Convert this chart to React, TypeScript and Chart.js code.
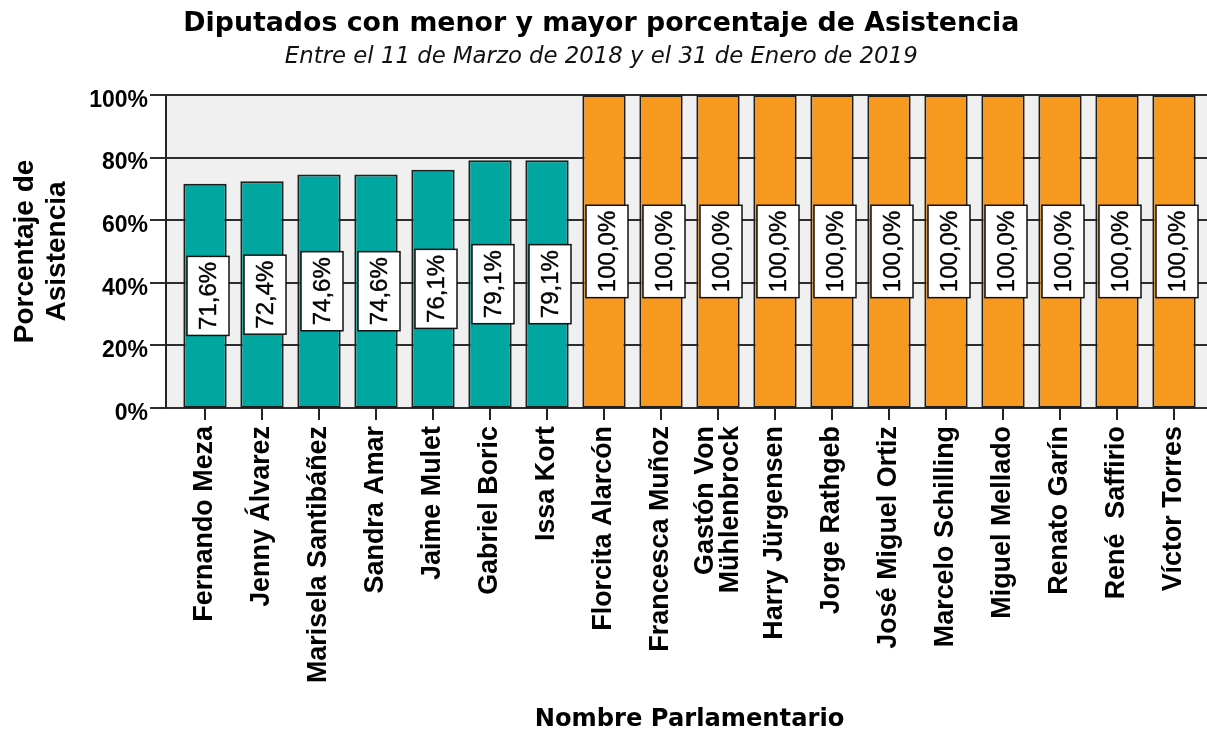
import React, { useEffect, useRef } from "react";
import { Chart, registerables } from "chart.js";

Chart.register(...registerables);

// ---- data ----
const parlamentarios: (string | string[])[] = [
  "Fernando Meza",
  "Jenny Álvarez",
  "Marisela Santibáñez",
  "Sandra Amar",
  "Jaime Mulet",
  "Gabriel Boric",
  "Issa Kort",
  "Florcita Alarcón",
  "Francesca Muñoz",
  ["Gastón Von", "Mühlenbrock"],
  "Harry Jürgensen",
  "Jorge Rathgeb",
  "José Miguel Ortiz",
  "Marcelo Schilling",
  "Miguel Mellado",
  "Renato Garín",
  "René  Saffirio",
  "Víctor Torres",
];
const asistencia: number[] = [
  71.6, 72.4, 74.6, 74.6, 76.1, 79.1, 79.1,
  100, 100, 100, 100, 100, 100, 100, 100, 100, 100, 100,
];
const grupo: string[] = [
  "menor", "menor", "menor", "menor", "menor", "menor", "menor",
  "mayor", "mayor", "mayor", "mayor", "mayor", "mayor", "mayor", "mayor", "mayor", "mayor", "mayor",
];
const yTicks: number[] = [0, 20, 40, 60, 80, 100];

const TITLE = "Diputados con menor y mayor porcentaje de Asistencia";
const SUBTITLE = "Entre el 11 de Marzo de 2018 y el 31 de Enero de 2019";
const Y_TITLE = ["Porcentaje de", "Asistencia"];
const X_TITLE = "Nombre Parlamentario";

const COLORS: Record<string, string> = { menor: "#00A6A0", mayor: "#F7981F" };

const fmt = (v: number) => v.toFixed(1).replace(".", ",") + "%";

const X_FONT_SIZE = 26.9;
const X_LINE_HEIGHT = 0.92;

const framePlugin = {
  id: "frame",
  beforeDraw(chart: any) {
    const { ctx, chartArea } = chart;
    const left = chartArea.left - 10.5;
    ctx.save();
    ctx.fillStyle = "#F0F0F0";
    ctx.fillRect(left, chartArea.top, chart.width - left, chartArea.bottom - chartArea.top);
    ctx.restore();
    // center multi-line category labels on their tick
    const xs = chart.scales.x;
    const items = xs.getLabelItems();
    const lh = X_FONT_SIZE * X_LINE_HEIGHT;
    items.forEach((it: any) => {
      if (Array.isArray(it.label) && !it._centered) {
        it.options.translation[0] -= (lh * (it.label.length - 1)) / 2;
        it._centered = true;
      }
    });
  },
  beforeDatasetsDraw(chart: any) {
    const { ctx, chartArea, scales } = chart;
    const y = scales.y;
    const axisX = Math.round(chartArea.left - 10.5);
    ctx.save();
    ctx.strokeStyle = "#2E2E2E";
    ctx.lineWidth = 2;
    y.ticks.forEach((t: any) => {
      const py = Math.round(y.getPixelForValue(t.value));
      ctx.beginPath();
      ctx.moveTo(chartArea.left - 26.5, py);
      ctx.lineTo(chart.width, py);
      ctx.stroke();
    });
    ctx.strokeStyle = "#222";
    ctx.beginPath();
    ctx.moveTo(axisX, Math.round(chartArea.top));
    ctx.lineTo(axisX, Math.round(chartArea.bottom) + 1);
    ctx.stroke();
    ctx.restore();
  },
};

const labelPlugin = {
  id: "barLabels",
  afterDatasetsDraw(chart: any) {
    const { ctx } = chart;
    const meta = chart.getDatasetMeta(0);
    const values = chart.data.datasets[0].data as number[];
    ctx.save();
    ctx.font = "normal 24px 'Liberation Sans'";
    meta.data.forEach((bar: any, i: number) => {
      const text = fmt(values[i]);
      const tw = ctx.measureText(text).width;
      const cx = bar.x + 3;
      const cy = (bar.y + bar.base) / 2;
      const bw = 42;
      const bh = tw + 11;
      ctx.fillStyle = "#FFFFFF";
      ctx.fillRect(cx - bw / 2, cy - bh / 2, bw, bh);
      ctx.strokeStyle = "#111";
      ctx.lineWidth = 1.5;
      ctx.strokeRect(cx - bw / 2, cy - bh / 2, bw, bh);
      ctx.save();
      ctx.translate(cx, cy);
      ctx.rotate(-Math.PI / 2);
      ctx.fillStyle = "#000";
      ctx.strokeStyle = "#000";
      ctx.lineWidth = 0.4;
      ctx.textAlign = "center";
      ctx.textBaseline = "middle";
      ctx.fillText(text, 0, 1);
      ctx.strokeText(text, 0, 1);
      ctx.restore();
    });
    ctx.restore();
  },
};

export default function App() {
  const ref = useRef<HTMLCanvasElement>(null);
  useEffect(() => {
    if (!ref.current) return;
    const chart = new Chart(ref.current, {
      type: "bar",
      data: {
        labels: parlamentarios,
        datasets: [
          {
            label: "Porcentaje de Asistencia",
            data: asistencia,
            backgroundColor: grupo.map((g) => COLORS[g]),
            borderColor: "#1E1E1E",
            borderWidth: 2,
            borderSkipped: false,
            categoryPercentage: 1,
            barPercentage: 0.76,
          },
        ],
      },
      options: {
        responsive: false,
        animation: false,
        devicePixelRatio: 1,
        layout: { padding: { left: 0, right: 4.5, top: 0, bottom: 0 } },
        plugins: {
          legend: { display: false },
          tooltip: { enabled: false },
          title: {
            display: true,
            text: TITLE,
            color: "#000",
            font: { family: "'DejaVu Sans'", weight: "bold", size: 26.8, lineHeight: 1.2 },
            padding: { top: 8, bottom: 0 },
          },
          subtitle: {
            display: true,
            text: SUBTITLE,
            color: "#111",
            font: { family: "'DejaVu Sans'", style: "italic", weight: "normal", size: 22.8, lineHeight: 1.2 },
            padding: { top: 3, bottom: 24.4 },
          },
        },
        scales: {
          x: {
            type: "category",
            offset: true,
            grid: {
              display: true,
              drawOnChartArea: false,
              drawTicks: true,
              tickLength: 12,
              offset: false,
              color: "#222",
              lineWidth: 2,
            },
            border: { display: false },
            ticks: {
              autoSkip: false,
              minRotation: 90,
              maxRotation: 90,
              padding: 6,
              color: "#000",
              font: { family: "'Liberation Sans'", weight: "bold", size: X_FONT_SIZE, lineHeight: X_LINE_HEIGHT },
            },
            title: {
              display: true,
              text: X_TITLE,
              color: "#000",
              font: { family: "'DejaVu Sans'", weight: "bold", size: 24.2, lineHeight: 1.2 },
              padding: { top: 0, bottom: 0 },
            },
            afterFit: (scale: any) => {
              scale.height = 326;
            },
          },
          y: {
            type: "linear",
            min: 0,
            max: 100,
            afterBuildTicks: (scale: any) => {
              scale.ticks = yTicks.map((v) => ({ value: v }));
            },
            grid: { display: false, drawTicks: false, tickLength: 0 },
            border: { display: false },
            ticks: {
              padding: 28.5,
              labelOffset: 5.5,
              color: "#000",
              font: { family: "'Liberation Sans'", weight: "bold", size: 23 },
              callback: (v: any) => v + "%",
            },
            title: {
              display: true,
              text: Y_TITLE,
              color: "#000",
              font: { family: "'Liberation Sans'", weight: "bold", size: 28, lineHeight: 1.13 },
              padding: { top: 9.5, bottom: 0 },
            },
            afterFit: (scale: any) => {
              scale.width = 176.5;
            },
          },
        },
      },
      plugins: [framePlugin, labelPlugin],
    } as any);
    return () => chart.destroy();
  }, []);
  return (
    <div style={{ position: "fixed", left: 0, top: 0, width: 1207, height: 734, background: "#fff" }}>
      <canvas ref={ref} width={1207} height={734} style={{ display: "block", width: 1207, height: 734 }} />
    </div>
  );
}
